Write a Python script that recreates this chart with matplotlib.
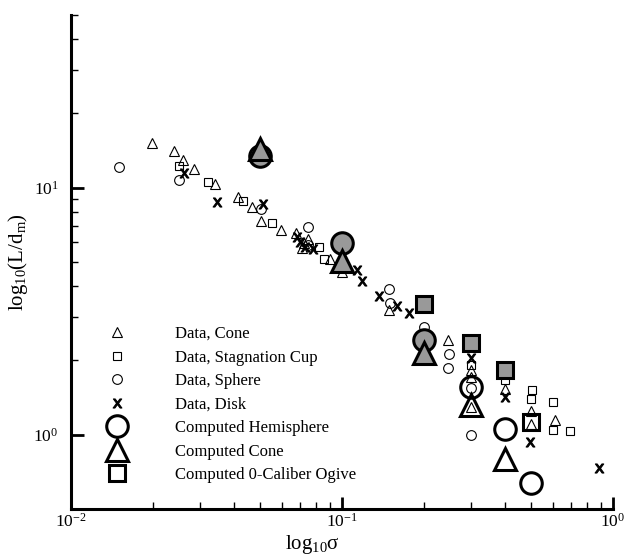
import matplotlib
matplotlib.use("Agg")
import matplotlib.pyplot as plt
from matplotlib.lines import Line2D
from matplotlib.ticker import LogLocator, FixedLocator, NullFormatter

plt.rcParams['font.family'] = ['Liberation Serif', 'DejaVu Serif']
plt.rcParams['mathtext.fontset'] = 'custom'
plt.rcParams['mathtext.rm'] = 'Liberation Serif'
plt.rcParams['mathtext.it'] = 'Liberation Serif:italic'
plt.rcParams['mathtext.bf'] = 'Liberation Serif:bold'

# ---- Data ----
cone_x = [0.0199, 0.0239, 0.0258, 0.0285, 0.034, 0.0412, 0.0464, 0.0501, 0.0594,
          0.0677, 0.071, 0.0749, 0.0726, 0.0903, 0.1, 0.149, 0.2, 0.247, 0.3, 0.3,
          0.3, 0.398, 0.5, 0.5, 0.611]
cone_y = [15.1, 14.1, 12.9, 11.9, 10.3, 9.13, 8.37, 7.30, 6.71,
          6.58, 5.70, 6.20, 5.96, 5.14, 4.57, 3.19, 2.02, 2.41, 1.82, 1.71,
          1.29, 1.53, 1.25, 1.10, 1.15]

cup_x = [0.025, 0.0319, 0.043, 0.055, 0.0825, 0.0861, 0.3, 0.4, 0.504, 0.5, 0.602, 0.6, 0.694]
cup_y = [12.2, 10.5, 8.80, 7.21, 5.74, 5.13, 1.91, 1.66, 1.51, 1.40, 1.35, 1.04, 1.03]

sphere_x = [0.015, 0.0251, 0.0501, 0.0747, 0.075, 0.149, 0.15, 0.2, 0.2475, 0.247, 0.3, 0.3]
sphere_y = [12.1, 10.7, 8.22, 6.96, 5.87, 3.87, 3.42, 2.73, 2.13, 1.87, 1.55, 1.0]

disk_x = [0.0262, 0.0347, 0.0512, 0.068, 0.070, 0.073, 0.078, 0.1133, 0.1182, 0.1369,
          0.1591, 0.1771, 0.3, 0.4, 0.494, 0.888]
disk_y = [11.5, 8.74, 8.61, 6.32, 6.05, 5.77, 5.62, 4.64, 4.19, 3.64,
          3.31, 3.10, 2.05, 1.42, 0.93, 0.736]

# Computed results: filled (gray) and open
hemi_fill_x = [0.05, 0.1, 0.2]
hemi_fill_y = [13.4, 5.95, 2.41]
hemi_open_x = [0.3, 0.4, 0.5]
hemi_open_y = [1.56, 1.05, 0.638]

ccone_fill_x = [0.05, 0.1, 0.2]
ccone_fill_y = [14.4, 5.05, 2.15]
ccone_open_x = [0.3, 0.4]
ccone_open_y = [1.32, 0.797]

ogive_fill_x = [0.2, 0.3, 0.4]
ogive_fill_y = [3.38, 2.35, 1.82]
ogive_open_x = [0.5]
ogive_open_y = [1.12]

legend_labels = ['Data, Cone', 'Data, Stagnation Cup', 'Data, Sphere', 'Data, Disk',
                 'Computed Hemisphere', 'Computed Cone', 'Computed 0-Caliber Ogive']

GRAY = '#999999'
fig = plt.figure(figsize=(6.29, 5.59), dpi=100)
ax = fig.add_axes([71/629, 1-509/559, (613-71)/629, (509-15)/559])
ax.set_xscale('log')
ax.set_yscale('log')
ax.set_xlim(0.01, 1.0)
ax.set_ylim(0.5, 50)

small = dict(linestyle='none', markerfacecolor='none', markeredgecolor='black',
             markeredgewidth=0.8, zorder=3, clip_on=False)
ax.plot(cone_x, cone_y, marker='^', markersize=7.2, **small)
ax.plot(cup_x, cup_y, marker='s', markersize=5.6, **small)
ax.plot(sphere_x, sphere_y, marker='o', markersize=7.0, **small)
ax.plot(disk_x, disk_y, linestyle='none', marker=r'$\mathsf{x}$', markersize=6.5,
        color='black', markeredgewidth=0.8, zorder=3)

big = dict(linestyle='none', markeredgecolor='black', markeredgewidth=2.2, zorder=4)
ax.plot(hemi_fill_x, hemi_fill_y, marker='o', markersize=15.5, markerfacecolor=GRAY, **big)
ax.plot(hemi_open_x, hemi_open_y, marker='o', markersize=15.5, markerfacecolor='none', **big)
ax.plot(ccone_fill_x, ccone_fill_y, marker='^', markersize=15.5, markerfacecolor=GRAY, **big)
ax.plot(ccone_open_x, ccone_open_y, marker='^', markersize=15.5, markerfacecolor='none', **big)
ax.plot(ogive_fill_x, ogive_fill_y, marker='s', markersize=12, markerfacecolor=GRAY, **big)
ax.plot(ogive_open_x, ogive_open_y, marker='s', markersize=12, markerfacecolor='none', **big)

# axes style
for s in ['top', 'right']:
    ax.spines[s].set_visible(False)
for s in ['left', 'bottom']:
    ax.spines[s].set_linewidth(2.2)

ax.xaxis.set_minor_locator(LogLocator(base=10, subs=range(2, 10)))
ax.xaxis.set_minor_formatter(NullFormatter())
ax.yaxis.set_minor_locator(FixedLocator([2, 3, 4, 5, 6, 7, 8, 9, 20, 30, 40, 50]))
ax.yaxis.set_minor_formatter(NullFormatter())
ax.set_xticks([0.01, 0.1, 1.0], [r'$10^{-2}$', r'$10^{-1}$', r'$10^{0}$'])
ax.set_yticks([1.0, 10.0], [r'$10^{0}$', r'$10^{1}$'])

ax.tick_params(which='major', direction='in', length=9, width=2.0, labelsize=12.5, pad=5)
ax.tick_params(which='minor', direction='in', length=5, width=1.0)
ax.tick_params(axis='x', which='major', pad=3)
ax.tick_params(axis='y', which='major', pad=9)

ax.set_xlabel(r'log$_{10}$σ', fontsize=15)
ax.set_ylabel(r'log$_{10}$(L/d$_{\rm m}$)', fontsize=15)
ax.xaxis.set_label_coords((312-71)/542, -0.048)
ax.yaxis.set_label_coords(-0.076, 0.5)

handles = [
    Line2D([], [], marker='^', markersize=7.2, linestyle='none', markerfacecolor='none',
           markeredgecolor='black', markeredgewidth=0.8),
    Line2D([], [], marker='s', markersize=5.6, linestyle='none', markerfacecolor='none',
           markeredgecolor='black', markeredgewidth=0.8),
    Line2D([], [], marker='o', markersize=7.0, linestyle='none', markerfacecolor='none',
           markeredgecolor='black', markeredgewidth=0.8),
    Line2D([], [], marker=r'$\mathsf{x}$', markersize=6.5, linestyle='none', color='black',
           markeredgewidth=0.8),
    Line2D([], [], marker='o', markersize=15.5, linestyle='none', markerfacecolor='none',
           markeredgecolor='black', markeredgewidth=2.2),
    Line2D([], [], marker='^', markersize=15.5, linestyle='none', markerfacecolor='none',
           markeredgecolor='black', markeredgewidth=2.2),
    Line2D([], [], marker='s', markersize=12, linestyle='none', markerfacecolor='none',
           markeredgecolor='black', markeredgewidth=2.2),
]
ax.legend(handles, legend_labels, loc='upper left', bbox_to_anchor=((100-71)/542, (509-326)/494),
          frameon=False, fontsize=12, numpoints=1, handlelength=2.0, handletextpad=2.5,
          labelspacing=0.45, borderpad=0, borderaxespad=0)

fig.savefig('out.png', dpi=100)
